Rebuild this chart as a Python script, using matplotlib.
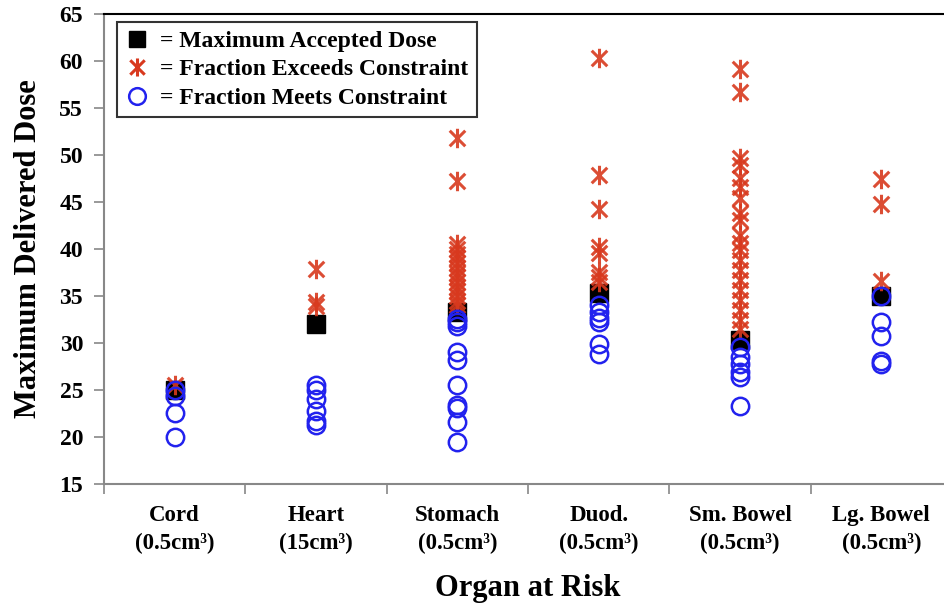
import matplotlib
matplotlib.use("Agg")
import matplotlib.pyplot as plt
from matplotlib.path import Path
from matplotlib.lines import Line2D

plt.rcParams['font.family'] = ['Liberation Serif', 'DejaVu Serif']
plt.rcParams['font.weight'] = 'bold'
plt.rcParams['axes.labelweight'] = 'bold'

categories = ["Cord\n(0.5cm³)", "Heart\n(15cm³)", "Stomach\n(0.5cm³)",
              "Duod.\n(0.5cm³)", "Sm. Bowel\n(0.5cm³)", "Lg. Bowel\n(0.5cm³)"]

max_accepted = [25.0, 32.0, 33.3, 35.3, 30.3, 35.0]

exceeds = [
    [25.5],
    [37.9, 34.4, 33.9],
    [51.8, 47.2, 40.5, 40.0, 39.5, 39.0, 38.5, 38.0, 37.5, 37.0, 36.5,
     36.0, 35.5, 35.0, 34.5, 34.0],
    [60.3, 47.9, 44.3, 40.2, 39.6, 37.6, 37.0, 36.5],
    [59.2, 56.7, 49.7, 48.9, 47.6, 46.6, 45.4, 43.8, 43.1, 41.5, 40.6,
     39.9, 38.8, 37.8, 36.7, 35.6, 34.6, 33.5, 32.4, 31.5],
    [47.5, 44.8, 36.6],
]

meets = [
    [25.0, 24.4, 22.6, 20.0],
    [25.5, 25.0, 24.0, 22.8, 21.7, 21.3],
    [32.6, 32.2, 31.8, 29.0, 28.2, 25.5, 23.4, 23.1, 21.6, 19.5],
    [34.0, 33.3, 32.7, 32.2, 29.9, 28.8],
    [29.6, 28.5, 27.8, 26.9, 26.4, 23.3],
    [35.0, 32.2, 30.7, 28.1, 27.8],
]

yticks = [15, 20, 25, 30, 35, 40, 45, 50, 55, 60, 65]

star = Path([(-1, -1), (1, 1), (-1, 1), (1, -1), (0, -1.25), (0, 1.25)],
            [Path.MOVETO, Path.LINETO, Path.MOVETO, Path.LINETO,
             Path.MOVETO, Path.LINETO])

W, H = 945, 608
fig = plt.figure(figsize=(W / 100, H / 100), dpi=100)
ax = fig.add_axes([104 / W, 1 - 484 / H, 848 / W, 470 / H])

sq_c = 'black'
st_c = '#d8391e'
ci_c = '#2222ee'

for i in range(len(categories)):
    x = i + 0.5
    ax.plot([x], [max_accepted[i]], linestyle='none', marker='s',
            markersize=13, color=sq_c, zorder=3)
    ax.plot([x] * len(exceeds[i]), exceeds[i], linestyle='none', marker=star,
            markersize=14, markeredgewidth=2.2, color=st_c, alpha=0.9, zorder=4)
    ax.plot([x] * len(meets[i]), meets[i], linestyle='none', marker='o',
            markersize=12.5, markeredgewidth=1.8, markerfacecolor='none',
            markeredgecolor=ci_c, zorder=5)

ax.set_xlim(0, 6)
ax.set_ylim(15, 65)
ax.set_yticks(yticks)
ax.set_yticklabels([str(v) for v in yticks])
ax.set_xticks(range(0, 7))
ax.set_xticklabels([])
ax.set_xticks([i + 0.5 for i in range(6)], minor=True)
ax.set_xticklabels(categories, minor=True)
ax.tick_params(axis='x', which='minor', length=0, pad=15, labelsize=16.5)
ax.tick_params(axis='x', which='major', length=7, width=1.2, color='#888888',
               direction='out')
ax.tick_params(axis='y', length=7, width=1.2, color='#888888', labelsize=17, pad=8)
for lab in ax.get_xticklabels(minor=True):
    lab.set_linespacing(1.45)

for s in ['left', 'bottom']:
    ax.spines[s].set_color('#888888')
    ax.spines[s].set_linewidth(1.5)
ax.spines['top'].set_color('black')
ax.spines['top'].set_linewidth(1.5)
ax.spines['right'].set_visible(False)

ax.set_ylabel('Maximum Delivered Dose', fontsize=22, fontweight='bold', labelpad=12)
ax.set_xlabel('Organ at Risk', fontsize=22, fontweight='bold', labelpad=14)

handles = [
    Line2D([], [], linestyle='none', marker='s', markersize=12, color=sq_c),
    Line2D([], [], linestyle='none', marker=star, markersize=13,
           markeredgewidth=2.2, color=st_c),
    Line2D([], [], linestyle='none', marker='o', markersize=12,
           markeredgewidth=1.8, markerfacecolor='none', markeredgecolor=ci_c),
]
labels = ['= Maximum Accepted Dose', '= Fraction Exceeds Constraint',
          '= Fraction Meets Constraint']
leg = ax.legend(handles, labels, loc='upper left', bbox_to_anchor=(0.015, 0.983),
                fontsize=17, frameon=True, fancybox=False, handlelength=1.0,
                handletextpad=0.5, borderpad=0.35, labelspacing=0.3,
                borderaxespad=0)
leg.get_frame().set_edgecolor('black')
leg.get_frame().set_linewidth(1.5)

fig.savefig('out.png', dpi=100)
